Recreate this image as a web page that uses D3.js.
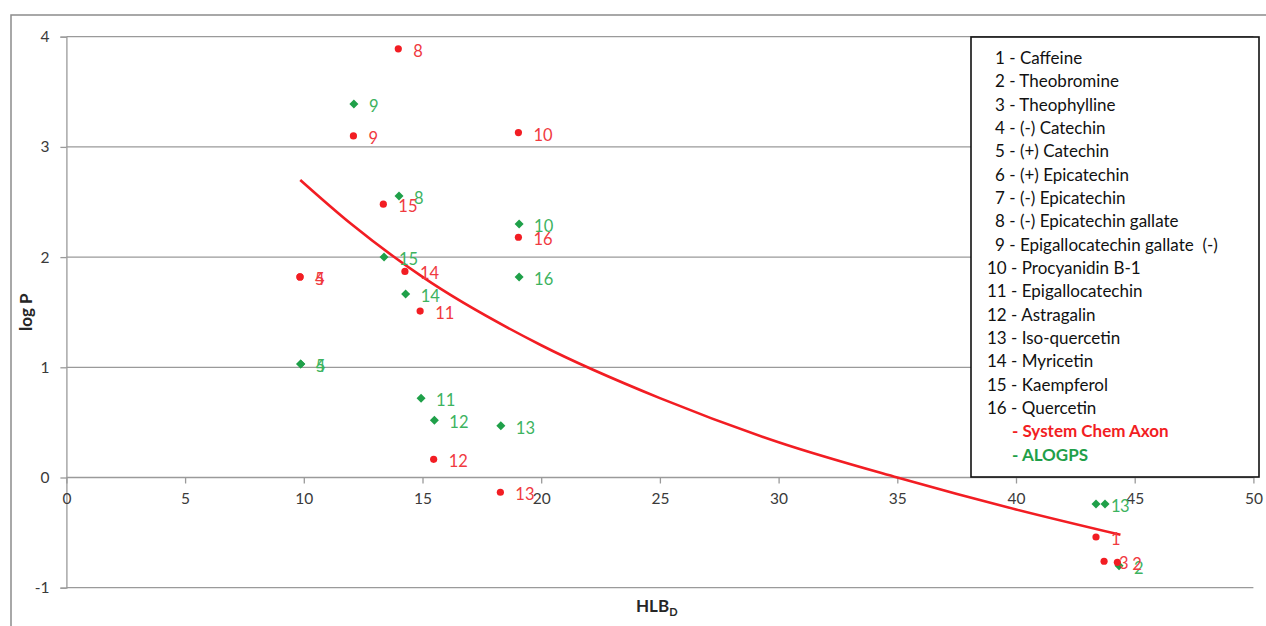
<!DOCTYPE html>
<html>
<head>
<meta charset="utf-8">
<script src="https://cdn.jsdelivr.net/npm/d3@7"></script>
<style>
  body { margin: 0; background: #fff; }
  svg { display: block; font-family: Lato, 'Liberation Sans', sans-serif; }
</style>
</head>
<body>
<div id="chart"></div>
<script>
// compounds listed in the legend
var compounds = [
  'Caffeine', 'Theobromine', 'Theophylline', '(-) Catechin', '(+) Catechin',
  '(+) Epicatechin', '(-) Epicatechin', '(-) Epicatechin gallate',
  'Epigallocatechin gallate  (-)', 'Procyanidin B-1', 'Epigallocatechin',
  'Astragalin', 'Iso-quercetin', 'Myricetin', 'Kaempferol', 'Quercetin'
]

// System Chem Axon log P vs HLB_D
var axonIds = [1, 2, 3, 4, 5, 8, 9, 10, 11, 12, 13, 14, 15, 16]
var axonX = [43.37, 44.27, 43.71, 9.84, 9.84, 13.98, 12.09, 19.04, 14.9, 15.47, 18.28, 14.26, 13.35, 19.04]
var axonY = [-0.54, -0.77, -0.76, 1.82, 1.82, 3.89, 3.1, 3.13, 1.51, 0.165, -0.134, 1.87, 2.48, 2.18]

// ALOGPS log P vs HLB_D
var alogpsIds = [1, 2, 3, 4, 5, 8, 9, 10, 11, 12, 13, 14, 15, 16]
var alogpsX = [43.37, 44.34, 43.75, 9.87, 9.87, 14.01, 12.11, 19.07, 14.94, 15.5, 18.3, 14.29, 13.38, 19.07]
var alogpsY = [-0.24, -0.8, -0.24, 1.03, 1.03, 2.555, 3.39, 2.3, 0.72, 0.52, 0.47, 1.665, 2.0, 1.82]

// trend line
var trendX = [9.85, 12, 15, 20, 25, 30, 35, 40, 44.4]
var trendY = [2.7, 2.3, 1.82, 1.2, 0.72, 0.32, 0.0, -0.29, -0.52]

var xTicks = [0, 5, 10, 15, 20, 25, 30, 35, 40, 45, 50]
var yTicks = [-1, 0, 1, 2, 3, 4]

var red = '#f21d23'
var redText = '#f03a3f'
var green = '#1fa049'
var greenText = '#3db35f'

var W = 1266, H = 626
var svg = d3.select('#chart').append('svg').attr('width', W).attr('height', H)

// outer chart frame
svg.append('rect')
  .attr('x', 11).attr('y', 15)
  .attr('width', 1400).attr('height', 800)
  .attr('fill', '#fff')
  .attr('stroke', '#8c8c8c').attr('stroke-width', 1.5)

var x = d3.scaleLinear().domain([0, 50]).range([66.4, 1253.4])
var y = d3.scaleLinear().domain([-1, 4]).range([587.7, 36.7])

// horizontal gridlines
svg.append('g')
  .selectAll('line')
  .data(yTicks)
  .enter()
  .append('line')
  .attr('x1', x(0)).attr('x2', x(50))
  .attr('y1', function(d) { return y(d) })
  .attr('y2', function(d) { return y(d) })
  .attr('stroke', '#9a9a9a').attr('stroke-width', 1.3)

// y axis
var yAxis = svg.append('g')
  .attr('transform', 'translate(' + x(0) + ',0)')
  .call(d3.axisLeft(y).tickValues(yTicks).tickSize(6).tickPadding(11).tickFormat(String))
yAxis.select('.domain').attr('stroke', '#9a9a9a').attr('stroke-width', 1.3)
yAxis.selectAll('.tick line').attr('stroke', '#9a9a9a').attr('stroke-width', 1.3)
yAxis.selectAll('text').attr('font-size', 15.5).attr('fill', '#3a3a3a')
  .attr('font-family', 'Lato, sans-serif')

// x axis sits on y = 0
var xAxis = svg.append('g')
  .attr('transform', 'translate(0,' + y(0) + ')')
  .call(d3.axisBottom(x).tickValues(xTicks).tickSize(6).tickPadding(9).tickFormat(String))
xAxis.select('.domain').remove()
xAxis.selectAll('.tick line').attr('stroke', '#9a9a9a').attr('stroke-width', 1.3)
xAxis.selectAll('text').attr('font-size', 15.5).attr('fill', '#3a3a3a')
  .attr('font-family', 'Lato, sans-serif')

// axis titles
svg.append('text')
  .attr('transform', 'translate(32,' + (y(-1) + y(4)) / 2 + ') rotate(-90)')
  .attr('text-anchor', 'middle')
  .attr('font-size', 17).attr('font-weight', 'bold').attr('fill', '#262626')
  .text('log P')

var xt = svg.append('text')
  .attr('x', 636).attr('y', 612)
  .attr('font-size', 17).attr('font-weight', 'bold').attr('fill', '#262626')
xt.append('tspan').text('HLB')
xt.append('tspan').attr('font-size', 11).attr('dy', 4).text('D')

// trend line
var trend = trendX.map(function(d, i) { return [d, trendY[i]] })
svg.append('path')
  .datum(trend)
  .attr('fill', 'none')
  .attr('stroke', red).attr('stroke-width', 2.6)
  .attr('d', d3.line()
    .x(function(d) { return x(d[0]) })
    .y(function(d) { return y(d[1]) })
    .curve(d3.curveMonotoneX))

var axonData = axonIds.map(function(id, i) { return { id: id, x: axonX[i], y: axonY[i] } })
var alogpsData = alogpsIds.map(function(id, i) { return { id: id, x: alogpsX[i], y: alogpsY[i] } })

// ALOGPS diamonds
var gGreen = svg.append('g')
gGreen.selectAll('path')
  .data(alogpsData)
  .enter()
  .append('path')
  .attr('d', d3.symbol().type(d3.symbolDiamond2).size(52))
  .attr('transform', function(d) { return 'translate(' + x(d.x) + ',' + y(d.y) + ')' })
  .attr('fill', green)
gGreen.selectAll('text')
  .data(alogpsData)
  .enter()
  .append('text')
  .attr('x', function(d) { return x(d.x) + 15 })
  .attr('y', function(d) { return y(d.y) + 8 })
  .attr('font-size', 16.5).attr('fill', greenText)
  .text(function(d) { return d.id })

// Chem Axon dots
var gRed = svg.append('g')
gRed.selectAll('circle')
  .data(axonData)
  .enter()
  .append('circle')
  .attr('cx', function(d) { return x(d.x) })
  .attr('cy', function(d) { return y(d.y) })
  .attr('r', 3.6)
  .attr('fill', red)
gRed.selectAll('text')
  .data(axonData)
  .enter()
  .append('text')
  .attr('x', function(d) { return x(d.x) + 15 })
  .attr('y', function(d) { return y(d.y) + 8 })
  .attr('font-size', 16.5).attr('fill', redText)
  .text(function(d) { return d.id })

// legend box
var legend = svg.append('g').attr('transform', 'translate(971,37)')
legend.append('rect')
  .attr('width', 288).attr('height', 440)
  .attr('fill', '#fff')
  .attr('stroke', '#111').attr('stroke-width', 1.6)

var rowH = 23.33
legend.selectAll('text.item')
  .data(compounds)
  .enter()
  .append('text')
  .attr('class', 'item')
  .attr('x', function(d, i) { return i < 9 ? 24 : 16 })
  .attr('y', function(d, i) { return 27 + i * rowH })
  .attr('font-size', 17).attr('fill', '#111')
  .attr('xml:space', 'preserve')
  .text(function(d, i) { return (i + 1) + ' - ' + d })

var seriesNames = ['- System Chem Axon', '- ALOGPS']
var seriesColors = [red, green]
legend.selectAll('text.series')
  .data(seriesNames)
  .enter()
  .append('text')
  .attr('class', 'series')
  .attr('x', 41)
  .attr('y', function(d, i) { return 27 + (16 + i) * rowH })
  .attr('font-size', 17).attr('font-weight', 'bold')
  .attr('fill', function(d, i) { return seriesColors[i] })
  .text(function(d) { return d })
</script>
</body>
</html>
